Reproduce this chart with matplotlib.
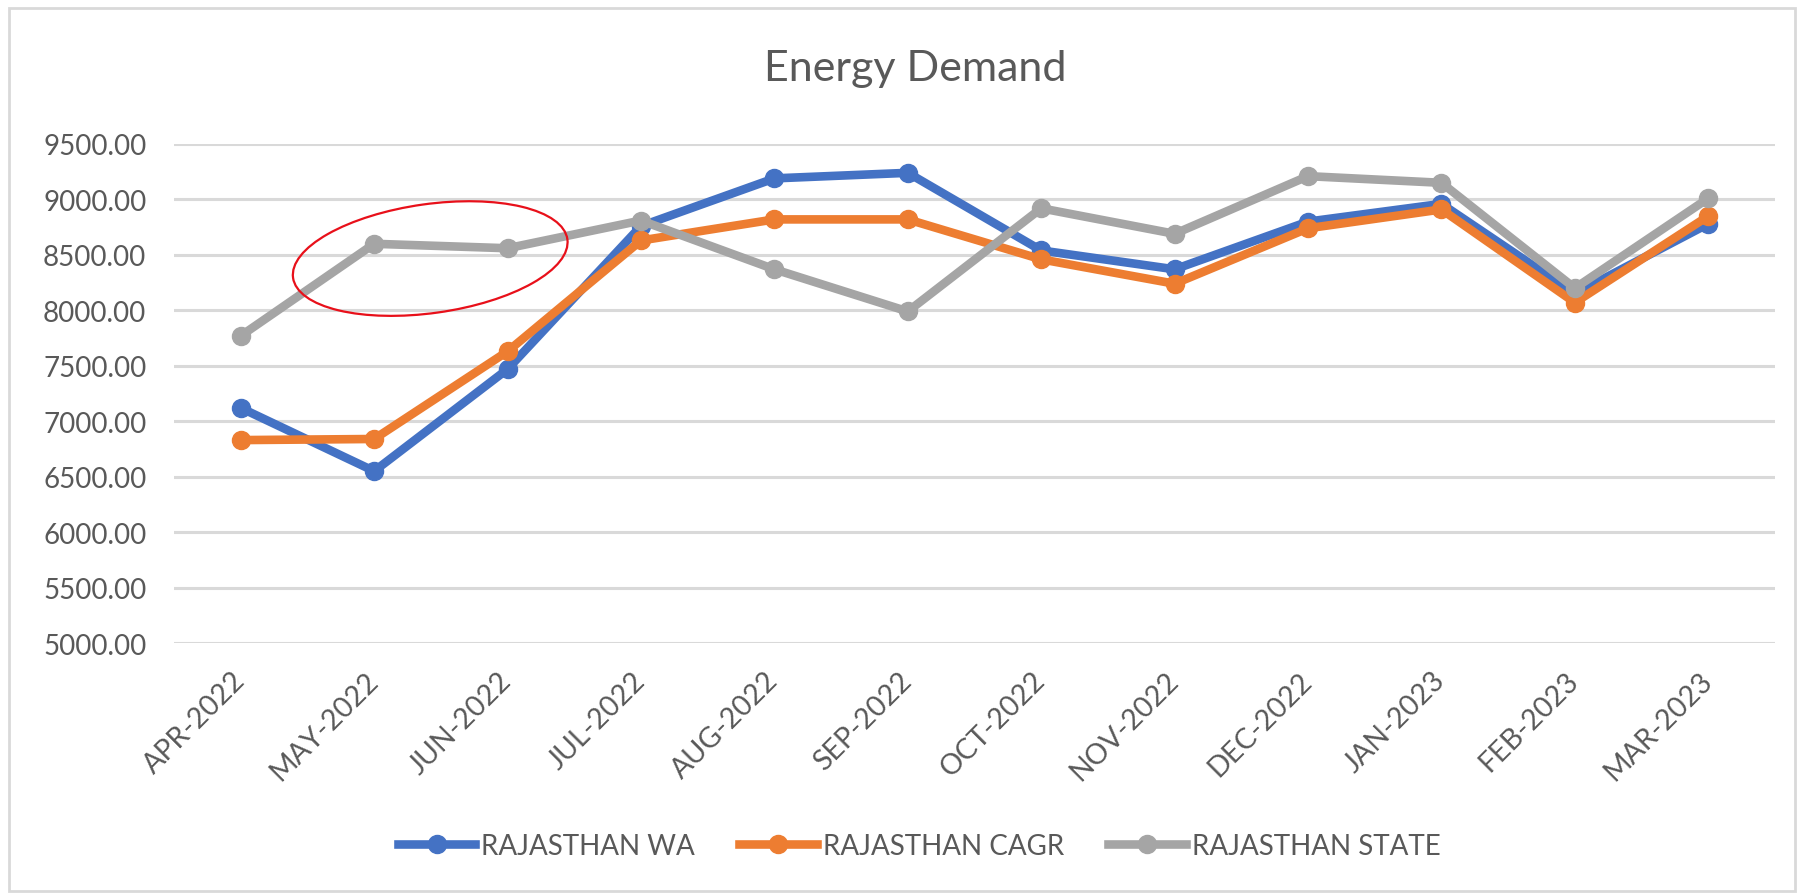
import matplotlib
matplotlib.use("Agg")
import matplotlib.pyplot as plt
from matplotlib.patches import Ellipse, Rectangle
from matplotlib.transforms import IdentityTransform, ScaledTranslation

plt.rcParams['font.family'] = ['Lato', 'DejaVu Sans']

months = ["APR-2022", "MAY-2022", "JUN-2022", "JUL-2022", "AUG-2022", "SEP-2022",
          "OCT-2022", "NOV-2022", "DEC-2022", "JAN-2023", "FEB-2023", "MAR-2023"]
wa = [7120, 6550, 7470, 8760, 9190, 9240, 8540, 8370, 8800, 8960, 8150, 8780]
cagr = [6830, 6840, 7630, 8630, 8820, 8820, 8460, 8240, 8740, 8910, 8070, 8850]
state = [7770, 8600, 8560, 8810, 8370, 7990, 8920, 8690, 9210, 9150, 8200, 9010]
yticks = [5000, 5500, 6000, 6500, 7000, 7500, 8000, 8500, 9000, 9500]

txt = "#595959"

fig = plt.figure(figsize=(18.02, 8.95), dpi=100)
ax = fig.add_subplot(111)
fig.subplots_adjust(left=0.0966, right=0.985, bottom=0.2804, top=0.838)

x = list(range(len(months)))
ax.plot(x, wa, color="#4472C4", lw=6.2, marker="o", ms=13, label="RAJASTHAN WA", zorder=3)
ax.plot(x, cagr, color="#ED7D31", lw=6.2, marker="o", ms=13, label="RAJASTHAN CAGR", zorder=4)
ax.plot(x, state, color="#A5A5A5", lw=6.2, marker="o", ms=13, label="RAJASTHAN STATE", zorder=5)

ax.set_xlim(-0.5, len(months) - 0.5)
ax.set_ylim(5000, 9500)
ax.set_yticks(yticks)
ax.set_yticklabels([f"{v:.2f}" for v in yticks])
ax.set_xticks(x)
ax.set_xticklabels(months, rotation=45, ha="right", va="top")
ax.tick_params(axis="y", length=0, pad=20, labelsize=20, labelcolor=txt)
ax.tick_params(axis="x", length=0, pad=17, labelsize=20.5, labelcolor=txt)
# nudge x labels a little to the right
for lab in ax.get_xticklabels():
    lab.set_transform(lab.get_transform() + ScaledTranslation(9 / 100, 0, fig.dpi_scale_trans))
ax.grid(axis="y", color="#D9D9D9", lw=2.2)
ax.set_axisbelow(True)
for s in ax.spines.values():
    s.set_visible(False)

fig.text(0.508, 0.923, "Energy Demand", ha="center", va="center", fontsize=31, color=txt)

leg = fig.legend(loc="center", bbox_to_anchor=(0.51, 0.054), ncol=3, frameon=False,
                 fontsize=20, handlelength=2.8, handletextpad=0.2, columnspacing=1.6,
                 labelcolor=txt)

# red ellipse around MAY/JUN state values
cx, cy = ax.transData.transform((1.42, 8467))
fig.add_artist(Ellipse((cx, cy), 277, 109, angle=8, fill=False, edgecolor="#E8101A",
                       lw=1.6, transform=IdentityTransform()))

# chart border
fig.add_artist(Rectangle((0.005, 0.003), 0.991, 0.987, transform=fig.transFigure,
                         fill=False, edgecolor="#D9D9D9", lw=2))

fig.savefig("out.png", dpi=100)
